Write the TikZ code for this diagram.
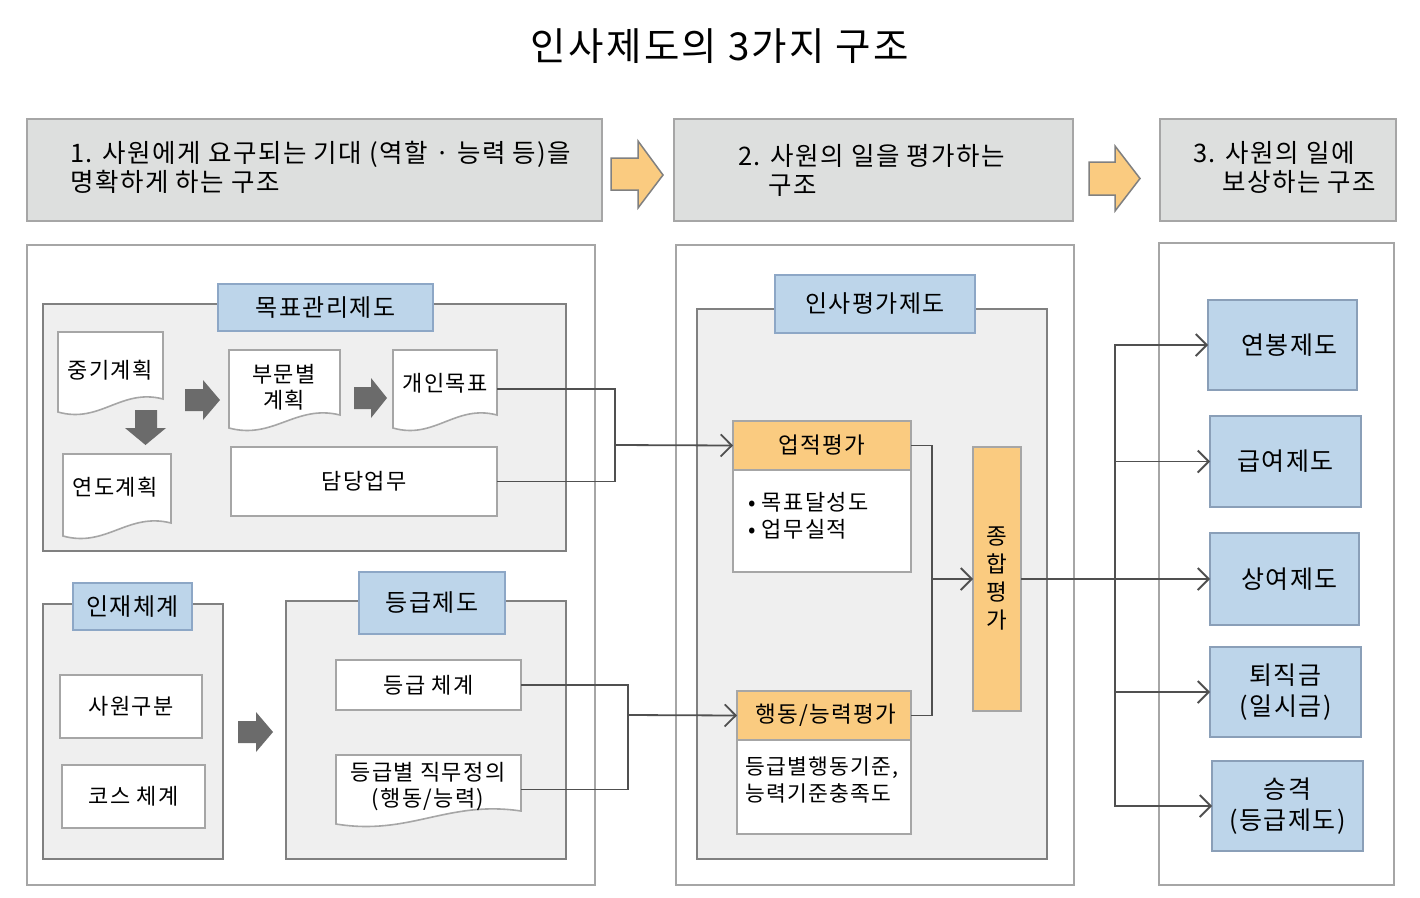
\documentclass[tikz,border=0pt]{standalone}
\usepackage{fontspec}
\setmainfont[LetterSpace=6]{Noto Sans CJK KR}
\usetikzlibrary{arrows.meta}
\definecolor{hdrgray}{HTML}{DDDFDE}
\definecolor{bgray}{HTML}{A6A6A6}
\definecolor{grpfill}{HTML}{EFEFEF}
\definecolor{grpline}{HTML}{808080}
\definecolor{lblblue}{HTML}{BDD5EA}
\definecolor{lblline}{HTML}{8DA7C6}
\definecolor{orng}{HTML}{FACB80}
\definecolor{darrow}{HTML}{6B6B6B}
\definecolor{connc}{HTML}{505050}
\newcommand\bx[7]{\node[#6, anchor=north west, inner sep=0pt, outer sep=0pt, minimum width={(#4-#2)*1pt}, minimum height={(#5-#3)*1pt}] (#1) at (#2,#3) {#7};}
% document shape: name x1 y1 x2 ybottom-left
\newcommand\docsh[5]{%
  \filldraw[docst] (#2,#3) -- (#4,#3) -- (#4,{#5-13}) .. controls ({#2+0.6*(#4-#2)},{#5-24}) and ({#2+0.4*(#4-#2)},{#5+12}) .. (#2,#5) -- cycle;
  \node[anchor=north west, inner sep=0pt, outer sep=0pt, minimum width={(#4-#2)*1pt}, minimum height={(#5-#3)*1pt}] (#1) at (#2,#3) {};}
\tikzset{
  hdr/.style={fill=hdrgray, draw=bgray, line width=1.8pt},
  panel/.style={fill=white, draw=bgray, line width=1.8pt},
  grp/.style={fill=grpfill, draw=grpline, line width=1.6pt},
  lbl/.style={fill=lblblue, draw=lblline, line width=1.6pt, font=\fontsize{24}{29}\selectfont},
  wbox/.style={fill=white, draw=bgray, line width=1.6pt, font=\fontsize{22}{27}\selectfont},
  docst/.style={fill=white, draw=bgray, line width=1.6pt},
  obox/.style={fill=orng, draw=bgray, line width=1.6pt, font=\fontsize{22.5}{27}\selectfont},
  bbox/.style={fill=lblblue, draw=lblline!80!gray, line width=1.6pt, font=\fontsize{25}{31}\selectfont, align=center},
  txt/.style={inner sep=0pt, font=\fontsize{22}{26}\selectfont, align=center},
  hdrtxt/.style={inner sep=0pt, anchor=west, align=left, font=\fontsize{25.5}{29}\selectfont},
  oarrow/.style={fill=orng, draw=grpline, line width=1.5pt, line join=miter},
  garrow/.style={fill=darrow, draw=none},
  conn/.style={draw=connc, line width=1.8pt},
  carr/.style={conn, -{Straight Barb[length=11pt, width=22pt, line width=1.8pt]}},
}
\begin{document}
\begin{tikzpicture}[x=1pt, y=-1pt]
\useasboundingbox (0,0) rectangle (1420,897);
\fill[white] (0,0) rectangle (1420,897);
% title
\node[inner sep=0pt, font=\fontsize{38.5}{44}\selectfont] (title) at (720,46) {인사제도의 3가지 구조};
% headers
\bx{h1}{27}{119}{602}{221}{hdr}{}
\bx{h2}{674}{119}{1073}{221}{hdr}{}
\bx{h3}{1160}{119}{1396}{221}{hdr}{}
\node[hdrtxt] (h1t) at (70,167.5) {1. 사원에게 요구되는 기대 (역할 · 능력 등)을\\명확하게 하는 구조};
\node[hdrtxt] (h2t) at (738,170.5) {2. 사원의 일을 평가하는\\\hspace*{30pt}구조};
\node[hdrtxt] (h3t) at (1193,167.5) {3. 사원의 일에\\\hspace*{29pt}보상하는 구조};
% orange arrows
\filldraw[oarrow] (611,158) -- (638,158) -- (638,141) -- (663,175) -- (638,208) -- (638,190) -- (611,190) -- cycle;
\filldraw[oarrow] (1089,162) -- (1115,162) -- (1115,146) -- (1140,178.5) -- (1115,211) -- (1115,195) -- (1089,195) -- cycle;
% panels
\bx{p1}{27}{245}{595}{885}{panel}{}
\bx{p2}{676}{245}{1074}{885}{panel}{}
\bx{p3}{1159}{243}{1394}{885}{panel}{}
% ---- panel 1: 목표관리제도
\bx{g1}{43}{304}{566}{551}{grp}{}
\bx{l1}{218}{284}{433}{331}{lbl}{목표관리제도}
\docsh{d1}{58}{332}{163}{412}
\node[txt] (d1t) at (110,370) {중기계획};
\docsh{d2}{63}{454}{171}{536}
\node[txt] (d2t) at (115,487) {연도계획};
\docsh{d3}{229}{350}{340}{428}
\node[txt] (d3t) at (284,387) {부문별\\계획};
\docsh{d4}{393}{350}{497}{428}
\node[txt] (d4t) at (445,383) {개인목표};
\bx{b1}{231}{447}{497}{516}{wbox}{담당업무}
\fill[garrow] (135,410) -- (157,410) -- (157,428) -- (166,428) -- (145.5,445) -- (125,428) -- (135,428) -- cycle;
\fill[garrow] (185,389) -- (203,389) -- (203,380) -- (220,400) -- (203,420) -- (203,411) -- (185,411) -- cycle;
\fill[garrow] (354,387) -- (371,387) -- (371,378) -- (387,398) -- (371,418) -- (371,409) -- (354,409) -- cycle;
% ---- 인재체계
\bx{g2}{43}{604}{223}{859}{grp}{}
\bx{l2}{73}{583}{192}{630}{lbl}{인재체계}
\bx{b2}{60}{675}{202}{738}{wbox}{사원구분}
\bx{b3}{62}{765}{205}{828}{wbox}{코스 체계}
\fill[garrow] (238,721) -- (256,721) -- (256,712) -- (273,732) -- (256,752) -- (256,743) -- (238,743) -- cycle;
% ---- 등급제도
\bx{g3}{286}{601}{566}{859}{grp}{}
\bx{l3}{359}{572}{505}{634}{lbl}{등급제도}
\bx{b4}{336}{660}{521}{710}{wbox}{등급 체계}
\docsh{d5}{336}{755}{521}{824}
\node[txt] (d5t) at (428,787) {등급별 직무정의\\(행동/능력)};
% ---- panel 2
\bx{g4}{697}{309}{1047}{859}{grp}{}
\bx{l4}{775}{275}{975}{333}{lbl}{인사평가제도}
\bx{o1}{733}{421}{911}{470}{obox}{업적평가}
\bx{w1}{733}{470}{911}{572}{wbox}{}
\node[txt, anchor=west, align=left, font=\fontsize{22}{27}\selectfont] (w1t) at (748,515.5) {• 목표달성도\\• 업무실적};
\bx{o2}{737}{691}{911}{740}{obox}{\hspace*{4pt}행동/능력평가}
\bx{w2}{737}{740}{911}{834}{wbox}{}
\node[txt, anchor=west, align=left, font=\fontsize{21.5}{27}\selectfont] (w2t) at (745,779.5) {등급별행동기준,\\능력기준충족도};
\bx{o3}{973}{447}{1021}{711}{obox}{}
\node[txt, font=\fontsize{22.5}{28}\selectfont] (o3t) at (997,579) {종\\합\\평\\가};
% ---- panel 3
\bx{r1}{1208}{300}{1357}{390}{bbox}{\hspace*{14pt}연봉제도}
\bx{r2}{1210}{416}{1361}{507}{bbox}{급여제도}
\bx{r3}{1210}{533}{1359}{625}{bbox}{\hspace*{10pt}상여제도}
\bx{r4}{1210}{647}{1361}{737}{bbox}{퇴직금\\(일시금)}
\bx{r5}{1212}{761}{1363}{851}{bbox}{승격\\(등급제도)}
% ---- connectors
\coordinate (j1) at (615,445);
\draw[conn] (d4.east) -| (j1);
\draw[conn] (b1.east) -| (j1);
\draw[carr] (j1) -- (o1.west);
\coordinate (j2) at (628,715);
\draw[conn] (b4.east) -| (j2);
\draw[conn] (d5.east) -| (j2);
\draw[carr] (j2) -- (o2.west);
\coordinate (j3) at (932,579);
\draw[conn] (o1.east) -| (j3);
\draw[conn] (o2.east) -| (j3);
\draw[carr] (j3) -- (o3.west);
\coordinate (bus) at (1115,579);
\draw[conn] (o3.east) -- (bus);
\foreach \t in {r1,r2,r3,r4,r5} {\draw[carr] (bus) |- (\t.west);}
\end{tikzpicture}
\end{document}
